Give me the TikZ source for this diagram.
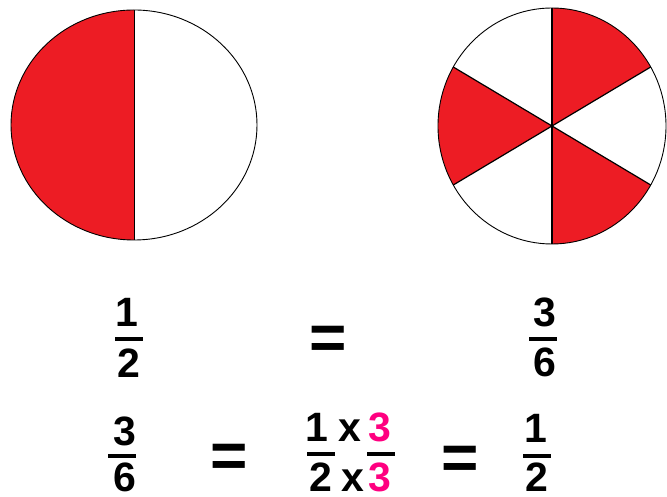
\documentclass[tikz,border=0pt]{standalone}
\usepackage{fontspec}
\setmainfont{Liberation Sans}
\usepackage{tikz}
\usetikzlibrary{calc}

\definecolor{pieRed}{RGB}{237,28,36}
\definecolor{hotPink}{RGB}{255,0,128}

\tikzset{
    digit/.style={font=\fontsize{41}{43}\selectfont\bfseries, inner sep=0pt, anchor=base},
    equals/.style={font=\fontsize{64}{66}\selectfont\bfseries, inner sep=0pt, anchor=base},
    fracbar/.style={fill=black, minimum width=28pt, minimum height=4.5pt, inner sep=0pt, outer sep=0pt}
}

\begin{document}
\begin{tikzpicture}[x=1pt,y=1pt]

\useasboundingbox (0,0) rectangle (667,497);

% Left pie: one half
\coordinate (lc) at (134,372);
\fill[white] (lc) ellipse (123 and 115);
\fill[pieRed] (134,487) arc[start angle=90, end angle=270, x radius=123, y radius=115] -- cycle;
\draw[line width=0.9pt] (lc) ellipse (123 and 115);
\draw[line width=1pt] (134,487) -- (134,257);

% Right pie: three sixths
\coordinate (rc) at (552,371);
\foreach \a in {30,150,270}
    \fill[pieRed] (rc) -- +(\a:114 and 118)
        arc[start angle=\a, end angle=\a+60, x radius=114, y radius=118] -- cycle;
\draw[line width=0.9pt] (rc) ellipse (114 and 118);
\foreach \a in {30,90,...,330}
    \draw[line width=1.2pt] (rc) -- +(\a:114 and 118);

% Row 1
\node[fracbar] (halfBar) at (129,158) {};
\node[digit] (halfNum) at (127,170) {1};
\node[digit] (halfDen) at (129,119) {2};

\node[equals] (eqTop) at (328,137) {=};

\node[fracbar] (sixBar) at (543,158) {};
\node[digit] (sixNum) at (545,170) {3};
\node[digit] (sixDen) at (545,120) {6};

% Row 2
\node[fracbar] (sixBarB) at (122,41) {};
\node[digit] (sixNumB) at (125,51) {3};
\node[digit] (sixDenB) at (125,5) {6};

\node[equals] (eqLeft) at (229,19) {=};

\node[fracbar] (mulBarA) at (321,43) {};
\node[fracbar] (mulBarB) at (381,43) {};
\node[digit] (mulOne) at (317,55) {1};
\node[digit] (mulXa) at (350,55) {x};
\node[digit, text=hotPink] (mulThreeA) at (380,55) {3};
\node[digit] (mulTwo) at (321,5) {2};
\node[digit] (mulXb) at (353,5) {x};
\node[digit, text=hotPink] (mulThreeB) at (380,5) {3};

\node[equals] (eqRight) at (460,17) {=};

\node[fracbar] (halfBarB) at (537,41) {};
\node[digit] (halfNumB) at (536,54) {1};
\node[digit] (halfDenB) at (537,5) {2};

\end{tikzpicture}
\end{document}
